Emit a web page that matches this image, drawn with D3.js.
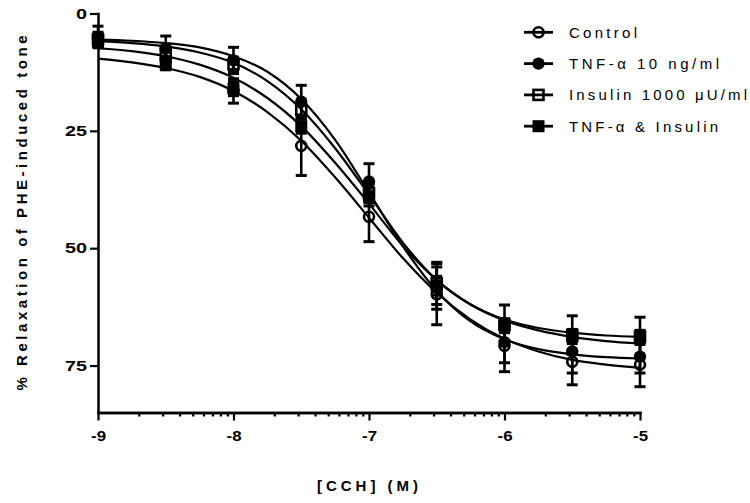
<!DOCTYPE html>
<html><head><meta charset="utf-8">
<script src="https://cdn.jsdelivr.net/npm/d3@7"></script>
<style>body{margin:0;background:#fff} svg{display:block}</style>
</head><body>
<svg id="chart" width="750" height="503"></svg>
<script>
// ---- data ----
const doses = [-9, -8.5, -8, -7.5, -7, -6.5, -6, -5.5, -5];
const seriesNames = ["Control", "TNF-\u03b1 10 ng/ml", "Insulin 1000 \u03bcU/ml", "TNF-\u03b1 & Insulin"];
const seriesMarkers = ["circleOpen", "circleFilled", "squareOpen", "squareFilled"];

const controlMean = [5.5, 10.0, 16.5, 28.2, 43.3, 59.8, 70.8, 74.2, 74.8];
const controlSem  = [1.2, 2.0, 2.6, 6.3, 5.3, 6.5, 5.5, 4.9, 4.7];
const tnfMean     = [5.0, 7.5, 10.0, 18.8, 35.8, 58.5, 70.0, 72.0, 73.1];
const tnfSem      = [2.3, 2.7, 2.8, 3.5, 3.8, 4.5, 4.4, 4.6, 3.5];
const insulinMean = [5.5, 8.5, 10.8, 20.5, 38.3, 57.5, 66.3, 68.5, 68.8];
const insulinSem  = [1.5, 1.5, 1.5, 1.5, 2.0, 4.5, 4.2, 4.1, 4.1];
const comboMean   = [6.0, 10.8, 16.0, 24.0, 39.0, 58.0, 66.5, 68.8, 69.0];
const comboSem    = [1.0, 1.0, 1.5, 1.5, 2.0, 2.0, 1.5, 1.5, 1.5];

// fitted sigmoid curves
const fitDoses   = [-9, -8.75, -8.5, -8.25, -8, -7.75, -7.5, -7.25, -7, -6.75, -6.5, -6.25, -6, -5.75, -5.5, -5.25, -5];
const controlFit = [9.6, 10.4, 11.6, 13.5, 16.5, 21.0, 27.1, 34.9, 43.5, 52.1, 59.5, 65.2, 69.3, 72.0, 73.8, 74.8, 75.5];
const tnfFit     = [5.55, 5.8, 6.3, 7.2, 9.1, 12.4, 18.2, 26.9, 38.1, 49.6, 59.1, 65.6, 69.4, 71.5, 72.6, 73.2, 73.5];
const insulinFit = [5.9, 6.3, 7.0, 8.3, 10.5, 14.4, 20.4, 28.7, 38.6, 48.8, 56.8, 62.0, 65.2, 67.0, 68.0, 68.6, 68.9];
const comboFit   = [7.4, 8.0, 9.1, 10.9, 13.7, 18.0, 24.0, 31.8, 40.5, 49.5, 56.8, 62.0, 65.4, 67.5, 68.9, 69.8, 70.3];

const xTicks = [-9, -8, -7, -6, -5];
const yTicks = [0, 25, 50, 75];
const xTitle = "[CCH] (M)";
const yTitle = "% Relaxation of PHE-induced tone";

// ---- build ----
const series = seriesNames.map((name, i) => ({
  name, marker: seriesMarkers[i],
  mean: [controlMean, tnfMean, insulinMean, comboMean][i],
  sem:  [controlSem, tnfSem, insulinSem, comboSem][i],
  fit:  [controlFit, tnfFit, insulinFit, comboFit][i]
}));

const svg = d3.select("#chart");
const FONT = "'Liberation Sans', Arial, Helvetica, sans-serif";
const x = d3.scaleLinear().domain([-9, -5]).range([98, 640]);
const y = d3.scaleLinear().domain([0, 85]).range([13.5, 412.5]);

// minor (log) ticks
const minor = [];
for (let d = -9; d < -5; d++) for (let k = 2; k <= 9; k++) minor.push(d + Math.log10(k));

const gx = svg.append("g").attr("transform", `translate(0,${y(85)})`);
gx.call(d3.axisBottom(x).tickValues(minor).tickSize(4).tickSizeOuter(0).tickFormat(""));
gx.append("g").call(d3.axisBottom(x).tickValues(xTicks).tickSize(8).tickSizeOuter(0).tickPadding(11).tickFormat(d => d));
gx.selectAll("path.domain").attr("stroke-width", 2.5).attr("stroke-linecap", "square");
gx.selectAll(".tick line").attr("stroke-width", 2.2);
gx.selectAll(".tick text")
  .attr("font-family", FONT).attr("font-weight", "bold").attr("font-size", 14).attr("fill", "#000")
  .attr("textLength", 15).attr("lengthAdjust", "spacingAndGlyphs");

const gy = svg.append("g").attr("transform", `translate(${x(-9)},0)`);
gy.call(d3.axisLeft(y).tickValues(yTicks).tickSize(8).tickSizeOuter(0).tickPadding(3).tickFormat(d => d));
gy.selectAll("path.domain").attr("stroke-width", 2.5).attr("stroke-linecap", "square");
gy.selectAll(".tick line").attr("stroke-width", 2.2);
gy.selectAll(".tick text")
  .attr("font-family", FONT).attr("font-weight", "bold").attr("font-size", 14.5).attr("fill", "#000")
  .attr("textLength", d => String(d).length * 11).attr("lengthAdjust", "spacingAndGlyphs");
svg.selectAll(".domain").attr("stroke", "#000");
svg.selectAll(".tick line").attr("stroke", "#000");

// axis titles
svg.append("text").attr("x", 367.5).attr("y", 491).attr("text-anchor", "middle")
  .attr("font-family", FONT).attr("font-weight", "bold").attr("font-size", 15)
  .attr("textLength", 101).attr("lengthAdjust", "spacing").text(xTitle);
svg.append("text").attr("transform", "translate(26.5,213) rotate(-90)").attr("text-anchor", "middle")
  .attr("font-family", FONT).attr("font-weight", "bold").attr("font-size", 15)
  .attr("textLength", 355).attr("lengthAdjust", "spacing").text(yTitle);

// curves
const line = d3.line().x((d, i) => x(fitDoses[i])).y(d => y(d)).curve(d3.curveMonotoneX);
svg.append("g").selectAll("path").data(series).join("path")
  .attr("d", s => line(s.fit)).attr("fill", "none").attr("stroke", "#000").attr("stroke-width", 2.2);

// markers
function drawMarker(g, type, cx, cy) {
  if (type === "circleOpen") g.append("circle").attr("cx", cx).attr("cy", cy).attr("r", 5).attr("fill", "none").attr("stroke", "#000").attr("stroke-width", 2.6);
  else if (type === "circleFilled") g.append("circle").attr("cx", cx).attr("cy", cy).attr("r", 6.2).attr("fill", "#000");
  else if (type === "squareOpen") g.append("rect").attr("x", cx - 5).attr("y", cy - 5).attr("width", 10).attr("height", 10).attr("fill", "none").attr("stroke", "#000").attr("stroke-width", 2.6);
  else g.append("rect").attr("x", cx - 6).attr("y", cy - 6).attr("width", 12).attr("height", 12).attr("fill", "#000");
}

// error bars
const eb = svg.append("g").attr("stroke", "#000").attr("stroke-width", 2.6);
series.forEach(s => {
  doses.forEach((d, i) => {
    const cx = x(d), y1 = y(s.mean[i] - s.sem[i]), y2 = y(s.mean[i] + s.sem[i]);
    eb.append("line").attr("x1", cx).attr("x2", cx).attr("y1", y1).attr("y2", y2);
    eb.append("line").attr("x1", cx - 5.5).attr("x2", cx + 5.5).attr("y1", y1).attr("y2", y1).attr("stroke-width", 3);
    eb.append("line").attr("x1", cx - 5.5).attr("x2", cx + 5.5).attr("y1", y2).attr("y2", y2).attr("stroke-width", 3);
  });
});
const mk = svg.append("g");
series.forEach(s => doses.forEach((d, i) => drawMarker(mk, s.marker, x(d), y(s.mean[i]))));

// legend
const legendWidths = [68, 150, 178, 149];
const lg = svg.append("g");
series.forEach((s, i) => {
  const ly = 32.3 + i * 31.3;
  lg.append("line").attr("x1", 524).attr("x2", 553).attr("y1", ly).attr("y2", ly).attr("stroke", "#000").attr("stroke-width", 2.8);
  drawMarker(lg, s.marker, 538.5, ly);
  lg.append("text").attr("x", 569).attr("y", ly + 5.5)
    .attr("font-family", FONT).attr("font-size", 15).attr("fill", "#000")
    .attr("textLength", legendWidths[i]).attr("lengthAdjust", "spacing").text(s.name);
});
</script>
</body></html>
